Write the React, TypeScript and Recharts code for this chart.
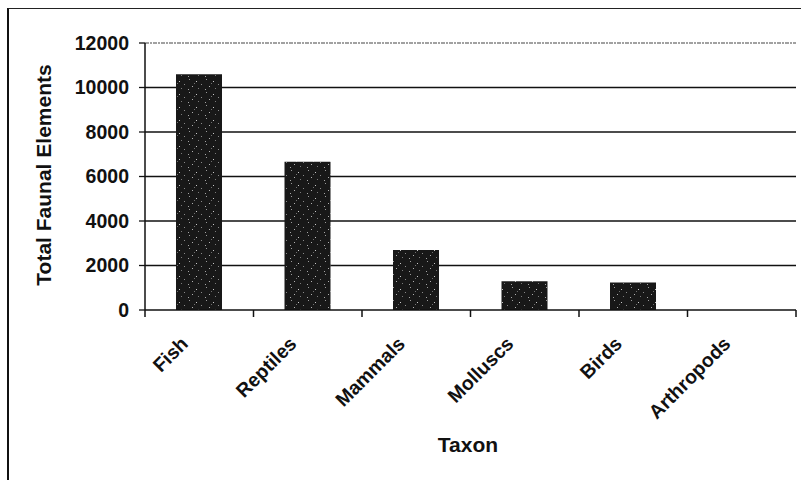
import React from "react";
import { BarChart, Bar, XAxis, YAxis, CartesianGrid, ReferenceLine, Label } from "recharts";

// Faunal element counts per taxon
const taxa = ["Fish", "Reptiles", "Mammals", "Molluscs", "Birds", "Arthropods"];
const elementCounts = [10600, 6660, 2700, 1290, 1240, 0];
const countTicks = [0, 2000, 4000, 6000, 8000, 10000, 12000];
const gridValues = [2000, 4000, 6000, 8000, 10000];

const data = taxa.map((taxon, i) => ({ taxon, count: elementCounts[i] }));

const W = 801;
const H = 480;
const MARGIN = { top: 43, right: 5, bottom: 50, left: 0 };
const Y_AXIS_W = 145;
const X_AXIS_H = 120;
const PLOT_W = W - MARGIN.left - MARGIN.right - Y_AXIS_W;
const BAND = PLOT_W / taxa.length;

const FONT = "'Liberation Sans', Arial, Helvetica, sans-serif";
const INK = "#111";

// Category label rotated 45deg, plus tick marks on the band edges (not centres)
function TaxonTick(props: any) {
  const { x, y, payload, index } = props;
  const left = x - BAND / 2;
  const tx = x - 10;
  const ty = y + 35;
  return (
    <g>
      <line x1={left} y1={y} x2={left} y2={y + 7} stroke={INK} strokeWidth={1.5} />
      {index === taxa.length - 1 && (
        <line x1={x + BAND / 2} y1={y} x2={x + BAND / 2} y2={y + 7} stroke={INK} strokeWidth={1.5} />
      )}
      <text
        x={tx}
        y={ty}
        transform={`rotate(-45, ${tx}, ${ty})`}
        textAnchor="end"
        fontFamily={FONT}
        fontSize={19.5}
        fontWeight={700}
        fill={INK}
      >
        {payload.value}
      </text>
    </g>
  );
}

export default function App() {
  return (
    <div style={{ position: "absolute", left: 0, top: 0, width: W, height: H, overflow: "hidden", background: "#fff" }}>
      {/* chart frame, only its top and left edges fall inside the page */}
      <div
        style={{
          position: "absolute",
          left: 7,
          top: 8,
          width: W,
          height: H,
          borderLeft: `2px solid ${INK}`,
          borderTop: `1.5px solid #222`,
        }}
      />
      <BarChart width={W} height={H} data={data} margin={MARGIN} style={{ position: "absolute", left: 0, top: 0 }}>
        <defs>
          <pattern id="speckle" width="17" height="13" patternUnits="userSpaceOnUse">
            <rect width="17" height="13" fill="#181818" />
            <rect x="2" y="1" width="1" height="1" fill="#9a9a9a" />
            <rect x="9" y="3" width="1" height="1" fill="#c8c8c8" />
            <rect x="14" y="6" width="1" height="1" fill="#8a8a8a" />
            <rect x="5" y="8" width="1" height="1" fill="#b0b0b0" />
            <rect x="11" y="10" width="1" height="1" fill="#7a7a7a" />
            <rect x="1" y="11" width="1" height="1" fill="#a5a5a5" />
            <rect x="7" y="5" width="1" height="1" fill="#6e6e6e" />
          </pattern>
        </defs>
        <CartesianGrid horizontal vertical={false} horizontalValues={gridValues} stroke={INK} strokeWidth={1.3} />
        <ReferenceLine y={12000} stroke="#444" strokeWidth={1.2} strokeDasharray="4 1 2 1" />
        <XAxis
          dataKey="taxon"
          height={X_AXIS_H}
          interval={0}
          tickSize={0}
          tickMargin={0}
          tickLine={false}
          axisLine={{ stroke: INK, strokeWidth: 1.5 }}
          tick={<TaxonTick />}
        >
          <Label
            content={() => (
              <text x={468} y={452} textAnchor="middle" fontFamily={FONT} fontSize={21} fontWeight={700} fill={INK}>
                Taxon
              </text>
            )}
          />
        </XAxis>
        <YAxis
          width={Y_AXIS_W}
          domain={[0, 12000]}
          ticks={countTicks}
          interval={0}
          tickSize={6}
          tickMargin={10}
          tickLine={{ stroke: INK, strokeWidth: 1.3 }}
          axisLine={{ stroke: INK, strokeWidth: 1.5 }}
          tick={{ fontFamily: FONT, fontSize: 19.5, fontWeight: 700, fill: INK }}
        >
          <Label
            content={() => (
              <text
                x={51}
                y={175}
                transform="rotate(-90, 51, 175)"
                textAnchor="middle"
                fontFamily={FONT}
                fontSize={21}
                fontWeight={700}
                fill={INK}
              >
                Total Faunal Elements
              </text>
            )}
          />
        </YAxis>
        <YAxis
          yAxisId="frame"
          orientation="right"
          width={0}
          domain={[0, 12000]}
          tick={false}
          tickLine={false}
          axisLine={{ stroke: INK, strokeWidth: 1.5 }}
        />
        <Bar dataKey="count" barSize={46} fill="url(#speckle)" isAnimationActive={false} />
      </BarChart>
    </div>
  );
}
